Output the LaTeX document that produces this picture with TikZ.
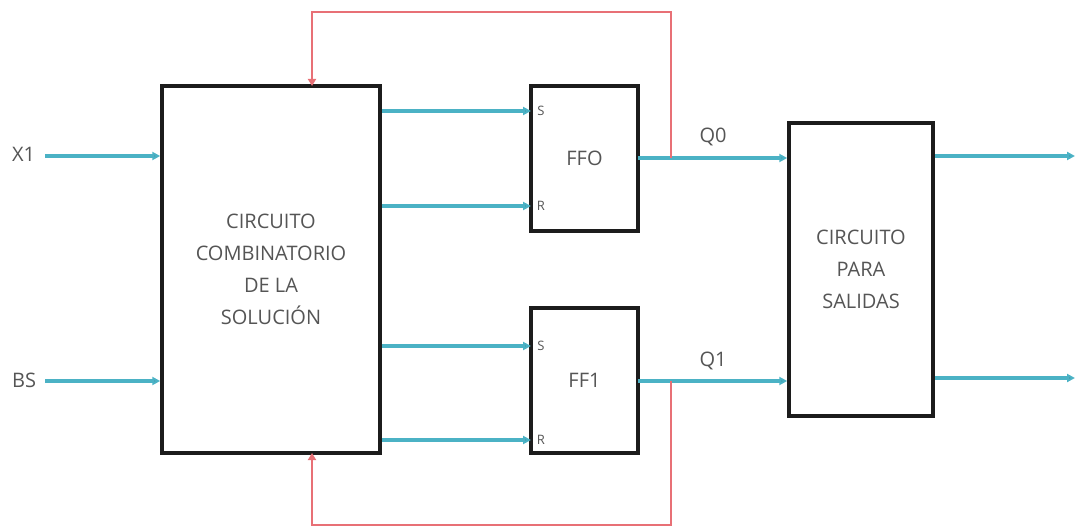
\documentclass[tikz,border=0pt]{standalone}
\usepackage{fontspec}
\setmainfont{Open Sans}
\usetikzlibrary{arrows.meta}
\definecolor{sig}{RGB}{75,178,197}
\definecolor{fb}{RGB}{232,112,118}
\definecolor{bx}{RGB}{28,28,28}
\definecolor{tx}{RGB}{85,85,85}
\tikzset{
  blk/.style={draw=bx,line width=3.5pt,fill=white,inner sep=0pt,text=tx,align=center,
    font=\fontsize{20}{32}\selectfont},
  lbl/.style={text=tx,inner sep=0pt,font=\fontsize{20}{24}\selectfont},
  pin/.style={text=tx,inner sep=0pt,font=\fontsize{13}{14}\selectfont},
  sigw/.style={draw=sig,line width=3.2pt,-{Triangle[length=8pt,width=8pt,fill=sig!80!black]}},
  fbw/.style={draw=fb,line width=2.8pt,-{Triangle[length=7pt,width=8pt]}},
}
\begin{document}
\begin{tikzpicture}[x=1pt,y=-1pt]
\useasboundingbox (0,0) rectangle (1075,529);
% blocks
\node[blk,minimum width=218pt,minimum height=367pt] (main) at (271,269.5)
  {CIRCUITO\\COMBINATORIO\\DE LA\\SOLUCIÓN};
\node[blk,minimum width=107pt,minimum height=145pt] (ff0) at (584.5,158.5) {FFO};
\node[blk,minimum width=107pt,minimum height=145pt] (ff1) at (584.5,380.5) {FF1};
\node[blk,minimum width=144pt,minimum height=293pt] (out) at (861,269.5)
  {CIRCUITO\\PARA\\SALIDAS};
% input labels
\node[lbl,anchor=west] (x1) at (12,154) {X1};
\node[lbl,anchor=west] (bs) at (12,380) {BS};
\coordinate (x1s) at (45,156);
\coordinate (bss) at (45,381);
\draw[sigw] (x1s) -- (main.west |- x1s);
\draw[sigw] (bss) -- (main.west |- bss);
% S/R connections
\coordinate (s0) at (531,111);
\coordinate (r0) at (531,206);
\coordinate (s1) at (531,346);
\coordinate (r1) at (531,440);
\draw[sigw] (main.east |- s0) -- (s0);
\draw[sigw] (main.east |- r0) -- (r0);
\draw[sigw] (main.east |- s1) -- (s1);
\draw[sigw] (main.east |- r1) -- (r1);
\node[pin] (ps0) at (541,111) {S};
\node[pin] (pr0) at (541,206) {R};
\node[pin] (ps1) at (541,346) {S};
\node[pin] (pr1) at (541,440) {R};
% Q outputs
\coordinate (q0) at (638,158);
\coordinate (q1) at (638,381);
\draw[sigw] (q0) -- (out.west |- q0);
\draw[sigw] (q1) -- (out.west |- q1);
\node[lbl] (lq0) at (713,137) {Q0};
\node[lbl] (lq1) at (713,361) {Q1};
% feedback
\coordinate (t0) at (671,158);
\coordinate (t1) at (671,381);
\coordinate (m0) at (312,86);
\coordinate (m1) at (312,453);
\draw[fbw] (t0) -- (671,12) -- (312,12) -- (m0);
\draw[fbw] (t1) -- (671,525) -- (312,525) -- (m1);
% outputs
\coordinate (o0) at (1075,156);
\coordinate (o1) at (1075,378);
\draw[sigw] (out.east |- o0) -- (o0);
\draw[sigw] (out.east |- o1) -- (o1);
\end{tikzpicture}
\end{document}
